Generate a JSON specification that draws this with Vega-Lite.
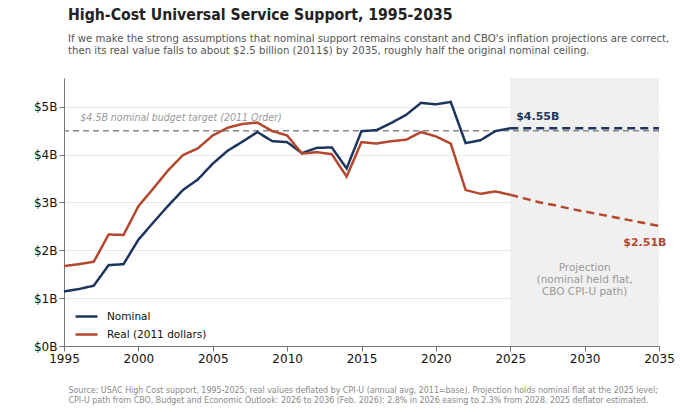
{
  "$schema": "https://vega.github.io/schema/vega-lite/v6.json",
  "width": 595,
  "height": 268,
  "autosize": "none",
  "padding": {"left": 64, "top": 78, "right": 21, "bottom": 66},
  "background": "white",
  "config": {
    "font": "DejaVu Sans",
    "view": {"stroke": null},
    "axis": {"labelFont": "DejaVu Sans", "labelFontSize": 12, "labelColor": "#111", "domainColor": "#777", "tickColor": "#777", "gridColor": "#e8e8e8", "labelFlush": false}
  },
  "title": {
    "text": "High-Cost Universal Service Support, 1995-2035",
    "subtitle": [
      "If we make the strong assumptions that nominal support remains constant and CBO's inflation projections are correct,",
      "then its real value falls to about $2.5 billion (2011$) by 2035, roughly half the original nominal ceiling."
    ],
    "anchor": "start",
    "frame": "group",
    "dx": 4,
    "offset": 21,
    "font": "DejaVu Sans Condensed",
    "fontSize": 15.7,
    "fontWeight": "bold",
    "color": "#222",
    "subtitleFont": "DejaVu Sans Condensed",
    "subtitleFontSize": 11.3,
    "subtitleColor": "#555",
    "subtitlePadding": 9,
    "subtitleLineHeight": 12
  },
  "datasets": {
    "series": [
      {"year": 1995, "series": "Nominal", "phase": "Actual", "value": 1.14},
      {"year": 1996, "series": "Nominal", "phase": "Actual", "value": 1.19},
      {"year": 1997, "series": "Nominal", "phase": "Actual", "value": 1.26},
      {"year": 1998, "series": "Nominal", "phase": "Actual", "value": 1.69},
      {"year": 1999, "series": "Nominal", "phase": "Actual", "value": 1.71},
      {"year": 2000, "series": "Nominal", "phase": "Actual", "value": 2.22},
      {"year": 2001, "series": "Nominal", "phase": "Actual", "value": 2.58},
      {"year": 2002, "series": "Nominal", "phase": "Actual", "value": 2.93},
      {"year": 2003, "series": "Nominal", "phase": "Actual", "value": 3.26},
      {"year": 2004, "series": "Nominal", "phase": "Actual", "value": 3.48},
      {"year": 2005, "series": "Nominal", "phase": "Actual", "value": 3.81},
      {"year": 2006, "series": "Nominal", "phase": "Actual", "value": 4.08},
      {"year": 2007, "series": "Nominal", "phase": "Actual", "value": 4.27},
      {"year": 2008, "series": "Nominal", "phase": "Actual", "value": 4.47},
      {"year": 2009, "series": "Nominal", "phase": "Actual", "value": 4.28},
      {"year": 2010, "series": "Nominal", "phase": "Actual", "value": 4.26},
      {"year": 2011, "series": "Nominal", "phase": "Actual", "value": 4.03},
      {"year": 2012, "series": "Nominal", "phase": "Actual", "value": 4.14},
      {"year": 2013, "series": "Nominal", "phase": "Actual", "value": 4.15},
      {"year": 2014, "series": "Nominal", "phase": "Actual", "value": 3.71},
      {"year": 2015, "series": "Nominal", "phase": "Actual", "value": 4.49},
      {"year": 2016, "series": "Nominal", "phase": "Actual", "value": 4.51},
      {"year": 2017, "series": "Nominal", "phase": "Actual", "value": 4.66},
      {"year": 2018, "series": "Nominal", "phase": "Actual", "value": 4.83},
      {"year": 2019, "series": "Nominal", "phase": "Actual", "value": 5.08},
      {"year": 2020, "series": "Nominal", "phase": "Actual", "value": 5.05},
      {"year": 2021, "series": "Nominal", "phase": "Actual", "value": 5.10},
      {"year": 2022, "series": "Nominal", "phase": "Actual", "value": 4.24},
      {"year": 2023, "series": "Nominal", "phase": "Actual", "value": 4.30},
      {"year": 2024, "series": "Nominal", "phase": "Actual", "value": 4.49},
      {"year": 2025, "series": "Nominal", "phase": "Actual", "value": 4.55},
      {"year": 2025, "series": "Nominal", "phase": "Projection", "value": 4.55},
      {"year": 2035, "series": "Nominal", "phase": "Projection", "value": 4.55},
      {"year": 1995, "series": "Real (2011 dollars)", "phase": "Actual", "value": 1.67},
      {"year": 1996, "series": "Real (2011 dollars)", "phase": "Actual", "value": 1.71},
      {"year": 1997, "series": "Real (2011 dollars)", "phase": "Actual", "value": 1.76},
      {"year": 1998, "series": "Real (2011 dollars)", "phase": "Actual", "value": 2.33},
      {"year": 1999, "series": "Real (2011 dollars)", "phase": "Actual", "value": 2.32},
      {"year": 2000, "series": "Real (2011 dollars)", "phase": "Actual", "value": 2.92},
      {"year": 2001, "series": "Real (2011 dollars)", "phase": "Actual", "value": 3.29},
      {"year": 2002, "series": "Real (2011 dollars)", "phase": "Actual", "value": 3.67},
      {"year": 2003, "series": "Real (2011 dollars)", "phase": "Actual", "value": 3.99},
      {"year": 2004, "series": "Real (2011 dollars)", "phase": "Actual", "value": 4.13},
      {"year": 2005, "series": "Real (2011 dollars)", "phase": "Actual", "value": 4.40},
      {"year": 2006, "series": "Real (2011 dollars)", "phase": "Actual", "value": 4.56},
      {"year": 2007, "series": "Real (2011 dollars)", "phase": "Actual", "value": 4.64},
      {"year": 2008, "series": "Real (2011 dollars)", "phase": "Actual", "value": 4.67},
      {"year": 2009, "series": "Real (2011 dollars)", "phase": "Actual", "value": 4.49},
      {"year": 2010, "series": "Real (2011 dollars)", "phase": "Actual", "value": 4.40},
      {"year": 2011, "series": "Real (2011 dollars)", "phase": "Actual", "value": 4.02},
      {"year": 2012, "series": "Real (2011 dollars)", "phase": "Actual", "value": 4.05},
      {"year": 2013, "series": "Real (2011 dollars)", "phase": "Actual", "value": 4.01},
      {"year": 2014, "series": "Real (2011 dollars)", "phase": "Actual", "value": 3.54},
      {"year": 2015, "series": "Real (2011 dollars)", "phase": "Actual", "value": 4.26},
      {"year": 2016, "series": "Real (2011 dollars)", "phase": "Actual", "value": 4.23},
      {"year": 2017, "series": "Real (2011 dollars)", "phase": "Actual", "value": 4.28},
      {"year": 2018, "series": "Real (2011 dollars)", "phase": "Actual", "value": 4.31},
      {"year": 2019, "series": "Real (2011 dollars)", "phase": "Actual", "value": 4.47},
      {"year": 2020, "series": "Real (2011 dollars)", "phase": "Actual", "value": 4.38},
      {"year": 2021, "series": "Real (2011 dollars)", "phase": "Actual", "value": 4.23},
      {"year": 2022, "series": "Real (2011 dollars)", "phase": "Actual", "value": 3.26},
      {"year": 2023, "series": "Real (2011 dollars)", "phase": "Actual", "value": 3.18},
      {"year": 2024, "series": "Real (2011 dollars)", "phase": "Actual", "value": 3.23},
      {"year": 2025, "series": "Real (2011 dollars)", "phase": "Actual", "value": 3.16},
      {"year": 2025, "series": "Real (2011 dollars)", "phase": "Projection", "value": 3.16},
      {"year": 2026, "series": "Real (2011 dollars)", "phase": "Projection", "value": 3.08},
      {"year": 2027, "series": "Real (2011 dollars)", "phase": "Projection", "value": 3.00},
      {"year": 2028, "series": "Real (2011 dollars)", "phase": "Projection", "value": 2.94},
      {"year": 2029, "series": "Real (2011 dollars)", "phase": "Projection", "value": 2.87},
      {"year": 2030, "series": "Real (2011 dollars)", "phase": "Projection", "value": 2.81},
      {"year": 2031, "series": "Real (2011 dollars)", "phase": "Projection", "value": 2.75},
      {"year": 2032, "series": "Real (2011 dollars)", "phase": "Projection", "value": 2.69},
      {"year": 2033, "series": "Real (2011 dollars)", "phase": "Projection", "value": 2.63},
      {"year": 2034, "series": "Real (2011 dollars)", "phase": "Projection", "value": 2.57},
      {"year": 2035, "series": "Real (2011 dollars)", "phase": "Projection", "value": 2.51}
    ],
    "projnote": [
      {"year": 2030, "value": 1.63, "label": "Projection"},
      {"year": 2030, "value": 1.38, "label": "(nominal held flat,"},
      {"year": 2030, "value": 1.13, "label": "CBO CPI-U path)"}
    ]
  },
  "encoding": {
    "x": {
      "field": "year",
      "type": "quantitative",
      "scale": {"domain": [1995, 2035], "nice": false, "zero": false},
      "axis": {
        "values": [1995, 2000, 2005, 2010, 2015, 2020, 2025, 2030, 2035],
        "format": "d",
        "grid": false,
        "labelPadding": 2,
        "title": [
          "Source: USAC High Cost support, 1995-2025; real values deflated by CPI-U (annual avg, 2011=base). Projection holds nominal flat at the 2025 level;",
          "CPI-U path from CBO, Budget and Economic Outlook: 2026 to 2036 (Feb. 2026): 2.8% in 2026 easing to 2.3% from 2028. 2025 deflator estimated."
        ],
        "titleFont": "DejaVu Sans Condensed",
        "titleFontSize": 8.8,
        "titleFontWeight": "normal",
        "titleColor": "#888",
        "titleAnchor": "start",
        "titleAlign": "left",
        "titleX": 4,
        "titleY": 39,
        "titleLineHeight": 10
      }
    },
    "y": {
      "field": "value",
      "type": "quantitative",
      "scale": {"domain": [0, 5.6], "nice": false},
      "axis": {
        "values": [0, 1, 2, 3, 4, 5],
        "labelExpr": "'$' + datum.value + 'B'",
        "title": null,
        "grid": true
      }
    }
  },
  "layer": [
    {
      "data": {"values": [{"year": 2025, "end": 2035}]},
      "mark": {"type": "rect", "color": "#f0f0f0"},
      "encoding": {
        "x2": {"field": "end"},
        "y": null
      }
    },
    {
      "data": {"values": [{"value": 4.5}]},
      "mark": {"type": "rule", "color": "#888", "strokeDash": [6, 4], "strokeWidth": 1.5},
      "encoding": {"x": null}
    },
    {
      "data": {"values": [{"year": 1996.1, "value": 4.77, "label": "$4.5B nominal budget target (2011 Order)"}]},
      "mark": {"type": "text", "align": "left", "baseline": "middle", "font": "DejaVu Sans Condensed", "fontStyle": "italic", "fontSize": 10.5, "color": "#999"},
      "encoding": {"text": {"field": "label"}}
    },
    {
      "data": {"name": "series"},
      "mark": {"type": "line", "strokeWidth": 2.5},
      "encoding": {
        "color": {
          "field": "series",
          "type": "nominal",
          "scale": {"domain": ["Nominal", "Real (2011 dollars)"], "range": ["#1c355e", "#b5472f"]},
          "legend": {
            "title": null,
            "orient": "none",
            "legendX": 10,
            "legendY": 226,
            "labelFontSize": 10.5,
            "labelColor": "#111",
            "labelOffset": 8,
            "symbolType": "stroke",
            "symbolStrokeWidth": 2.5,
            "symbolSize": 484,
            "rowPadding": -8
          }
        },
        "strokeDash": {
          "field": "phase",
          "type": "nominal",
          "scale": {"domain": ["Actual", "Projection"], "range": [[1, 0], [8, 5]]},
          "legend": null
        },
        "detail": {"field": "phase"}
      }
    },
    {
      "data": {"values": [{"year": 2025.4, "value": 4.79, "label": "$4.55B"}]},
      "mark": {"type": "text", "align": "left", "baseline": "middle", "fontWeight": "bold", "fontSize": 11, "color": "#1c355e"},
      "encoding": {"text": {"field": "label"}}
    },
    {
      "data": {"values": [{"year": 2035.5, "value": 2.15, "label": "$2.51B"}]},
      "mark": {"type": "text", "align": "right", "baseline": "middle", "fontWeight": "bold", "fontSize": 11, "color": "#b5472f"},
      "encoding": {"text": {"field": "label"}}
    },
    {
      "data": {"name": "projnote"},
      "mark": {"type": "text", "align": "center", "baseline": "middle", "fontSize": 10.5, "color": "#999"},
      "encoding": {"text": {"field": "label"}}
    }
  ]
}
